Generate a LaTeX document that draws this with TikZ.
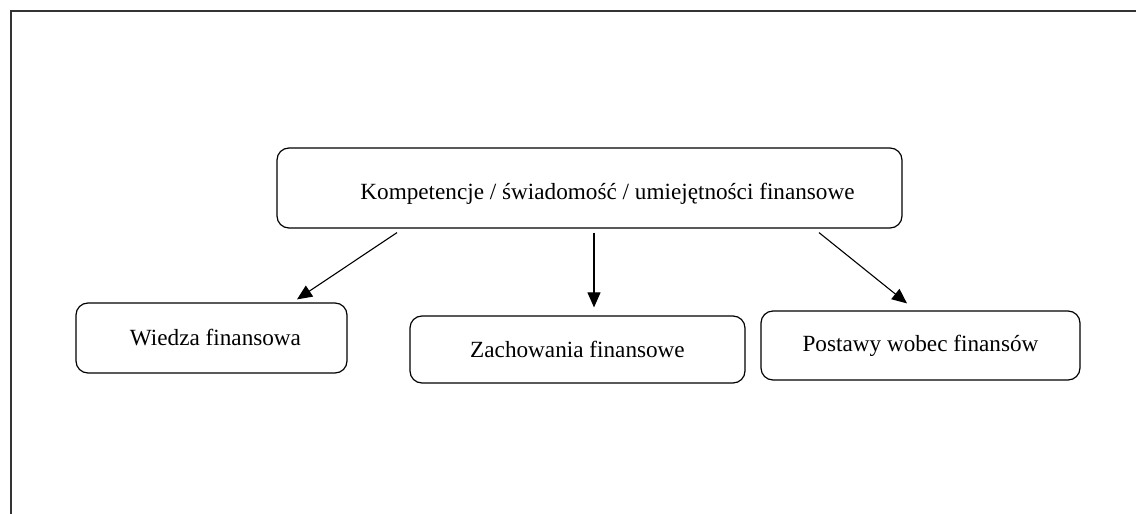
\documentclass[tikz,border=0pt]{standalone}
\usepackage{fontspec}
\setmainfont{Liberation Serif}
\usetikzlibrary{arrows.meta,calc}
\tikzset{
  box/.style={draw, line width=0.6pt, rounded corners=6pt, align=center,
    font=\fontsize{11.6}{14}\selectfont},
  arr/.style={line width=0.55pt, -{Triangle[length=7.5pt,width=6.5pt]}}
}
\begin{document}
\begin{tikzpicture}[x=0.5pt, y=-0.5pt]
% Page frame (cut off at right and bottom)
\useasboundingbox (0,0) rectangle (1136,514);
\draw[line width=1pt, black!80] (10.5,514) -- (10.5,11) -- (1136,11);
% Main box
\node[box, minimum width=312.5pt, minimum height=40pt, text height=13pt,
  text depth=1.6pt] (komp) at (589.5,188)
  {\hspace*{18pt}Kompetencje / świadomość / umiejętności finansowe};
% Three components
\node[box, minimum width=135.5pt, minimum height=35pt] (wiedza) at (211.5,338)
  {\hspace*{4pt}Wiedza finansowa};
\node[box, minimum width=167.5pt, minimum height=33.5pt] (zach) at (577.5,349.5)
  {Zachowania finansowe};
\node[box, minimum width=159.5pt, minimum height=34.5pt] (post) at (920.5,345.5)
  {Postawy wobec finansów};
% Arrows from the main box
\draw[arr] ($(komp.south)+(-192.5,4)$) -- ($(wiedza.north)+(85.5,-3)$);
\draw[arr] ($(komp.south)+(4.5,4)$) -- ($(zach.north)+(16.5,-8)$);
\draw[arr] ($(komp.south)+(229.5,4)$) -- ($(post.north)+(-13.5,-7)$);
\end{tikzpicture}
\end{document}
